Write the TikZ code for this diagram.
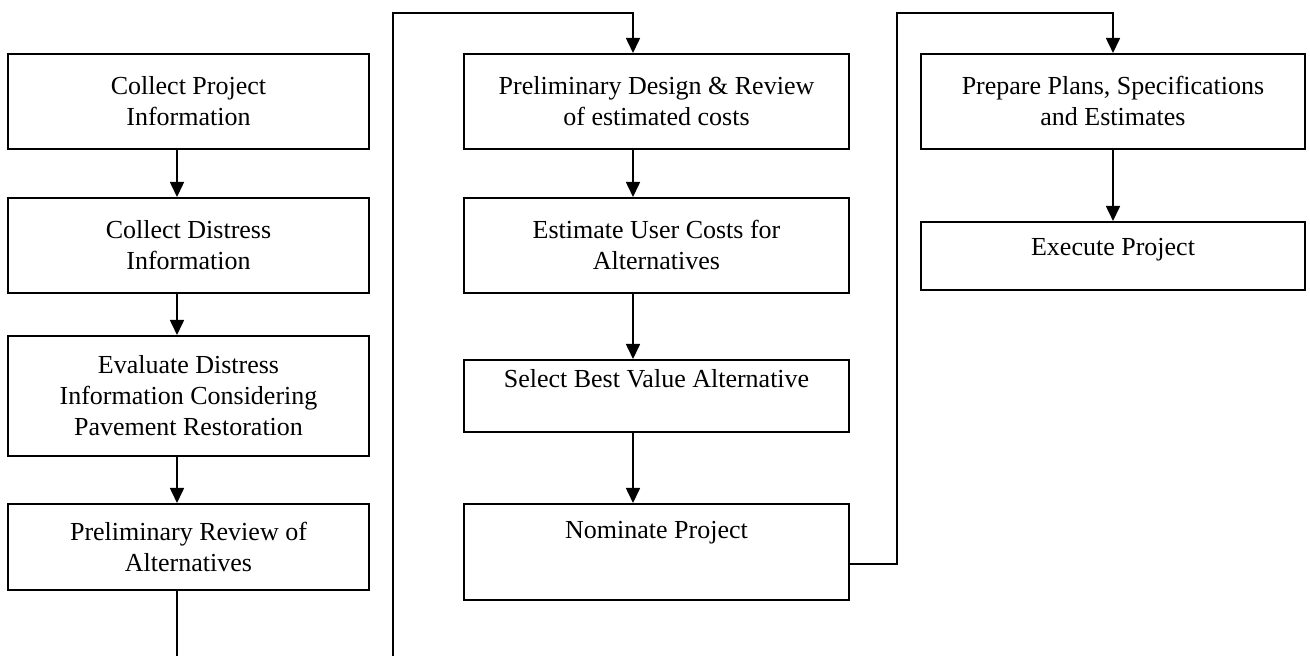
\documentclass[tikz,border=0pt]{standalone}
\usepackage{fontspec}
\setmainfont{Liberation Serif}
\usetikzlibrary{arrows.meta}
\begin{document}
\begin{tikzpicture}[x=0.5pt,y=-0.5pt,line width=0.8pt,
    box/.style={draw,line width=0.9pt,anchor=north,inner xsep=2pt,inner ysep=0pt,align=center,font=\fontsize{13}{15.5}\selectfont},
    colA/.style={box,minimum width=180.5pt},
    colB/.style={box,minimum width=192.5pt},
    colC/.style={box,minimum width=192pt},
    arr/.style={-{Triangle[length=7.5pt,width=7pt]}}]

    \useasboundingbox (0,0) rectangle (1310,656);

    \node [colA,minimum height=47.5pt] (projinfo) at (188.5,53) {Collect Project\\Information};
    \node [colA,minimum height=47.5pt] (distinfo) at (188.5,197) {Collect Distress\\Information};
    \node [colA,minimum height=60pt] (evaluate) at (188.5,335) {Evaluate Distress\\Information Considering\\Pavement Restoration};
    \node [colA,minimum height=43pt] (prelimrev) at (188.5,503) {Preliminary Review of\\Alternatives};

    \node [colB,minimum height=47.5pt] (design) at (656.5,53) {Preliminary Design \& Review\\of estimated costs};
    \node [colB,minimum height=47.5pt] (usercost) at (656.5,197) {Estimate User Costs for\\Alternatives};
    \node [colB,text height=14pt,text depth=22pt] (select) at (656.5,359) {Select Best Value Alternative};
    \node [colB,text height=17.5pt,text depth=30.5pt] (nominate) at (656.5,503) {Nominate Project};

    \node [colC,minimum height=47.5pt] (plans) at (1113,53) {Prepare Plans, Specifications\\and Estimates};
    \node [colC,text height=17pt,text depth=17pt] (execute) at (1113,221) {Execute Project};

    \coordinate (xa) at (177,0);
    \coordinate (xb) at (633,0);
    \coordinate (xc) at (1113,0);
    \coordinate (top) at (0,13);
    \coordinate (lowA) at (177,656);
    \coordinate (lowB) at (393,656);
    \coordinate (turn) at (897,564);

    \draw[arr] (projinfo.south -| xa) -- (distinfo.north -| xa);
    \draw[arr] (distinfo.south -| xa) -- (evaluate.north -| xa);
    \draw[arr] (evaluate.south -| xa) -- (prelimrev.north -| xa);
    \draw (prelimrev.south -| xa) -- (lowA);

    \draw[arr] (lowB) |- (top -| xb) -- (design.north -| xb);
    \draw[arr] (design.south -| xb) -- (usercost.north -| xb);
    \draw[arr] (usercost.south -| xb) -- (select.north -| xb);
    \draw[arr] (select.south -| xb) -- (nominate.north -| xb);

    \draw[arr] (nominate.east |- turn) -- (turn) |- (top -| xc) -- (plans.north -| xc);
    \draw[arr] (plans.south -| xc) -- (execute.north -| xc);

\end{tikzpicture}
\end{document}
